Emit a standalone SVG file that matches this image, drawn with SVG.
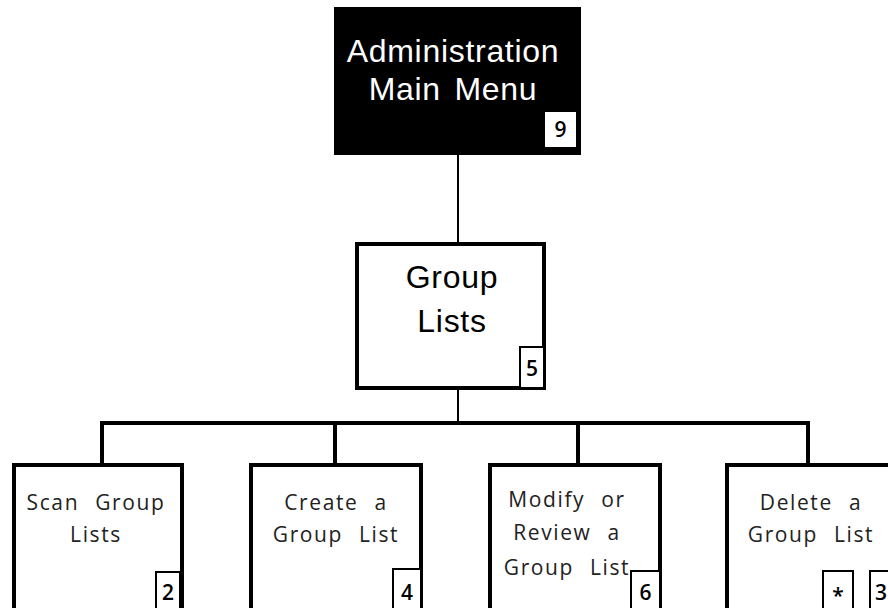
<svg xmlns="http://www.w3.org/2000/svg" width="888" height="608" viewBox="0 0 888 608">
<style>
.box{fill:#fff;stroke:#000;stroke-width:4}
.num{fill:#fff;stroke:#000;stroke-width:2}
.conn{fill:none;stroke:#000;stroke-width:4}
.t{font-family:"Open Sans","Liberation Sans",sans-serif;font-size:21px;fill:#222;text-anchor:middle;letter-spacing:1.6px;word-spacing:9px}
.tb{font-family:"Liberation Sans","Open Sans",sans-serif;font-size:32px;text-anchor:middle;letter-spacing:0.7px}
.n{font-family:"Open Sans","Liberation Sans",sans-serif;font-size:21px;font-weight:600;text-anchor:middle;fill:#000}
</style>
<rect width="888" height="608" fill="#fff"/>
<g id="connectors">
<line x1="458" y1="155" x2="458" y2="243" stroke="#000" stroke-width="2"/>
<line x1="458" y1="389" x2="458" y2="423" stroke="#000" stroke-width="2"/>
<path class="conn" d="M102 464 V423 H808 V464"/>
<line class="conn" x1="335" y1="423" x2="335" y2="464"/>
<line class="conn" x1="578" y1="423" x2="578" y2="464"/>
</g>
<g id="admin">
<rect x="334" y="7" width="247" height="148" fill="#000"/>
<text class="tb" x="453" y="62" fill="#fff">Administration</text>
<text class="tb" x="453" y="100" fill="#fff" word-spacing="4">Main Menu</text>
<rect x="545" y="112" width="31" height="35" fill="#fff"/>
<text class="n" x="560.5" y="137">9</text>
</g>
<g id="group-lists">
<rect class="box" x="357" y="244" width="187" height="144"/>
<text class="tb" x="452" y="288" fill="#000">Group</text>
<text class="tb" x="452" y="332" fill="#000">Lists</text>
<rect class="num" x="520" y="347" width="24" height="41"/>
<text class="n" x="532" y="376">5</text>
</g>
<g id="scan">
<rect class="box" x="14" y="465" width="168" height="145"/>
<text class="t" x="96" y="510">Scan Group</text>
<text class="t" x="96" y="542">Lists</text>
<rect class="num" x="156" y="572" width="24" height="40"/>
<text class="n" x="168" y="600">2</text>
</g>
<g id="create">
<rect class="box" x="251" y="465" width="170" height="145"/>
<text class="t" x="336" y="510">Create a</text>
<text class="t" x="336" y="542">Group List</text>
<rect class="num" x="393" y="569" width="28" height="43"/>
<text class="n" x="407" y="600">4</text>
</g>
<g id="modify">
<rect class="box" x="490" y="465" width="170" height="145"/>
<text class="t" x="567" y="507">Modify or</text>
<text class="t" x="567" y="540">Review a</text>
<text class="t" x="567" y="575">Group List</text>
<rect class="num" x="631" y="571" width="29" height="41"/>
<text class="n" x="645.5" y="600">6</text>
</g>
<g id="delete">
<rect class="box" x="727" y="465" width="170" height="145"/>
<text class="t" x="811" y="510">Delete a</text>
<text class="t" x="811" y="542">Group List</text>
<rect class="num" x="823" y="571" width="30" height="41"/>
<text class="n" x="838" y="603">*</text>
<rect class="num" x="870" y="571" width="30" height="41"/>
<text class="n" x="881" y="600">3</text>
</g>
</svg>
